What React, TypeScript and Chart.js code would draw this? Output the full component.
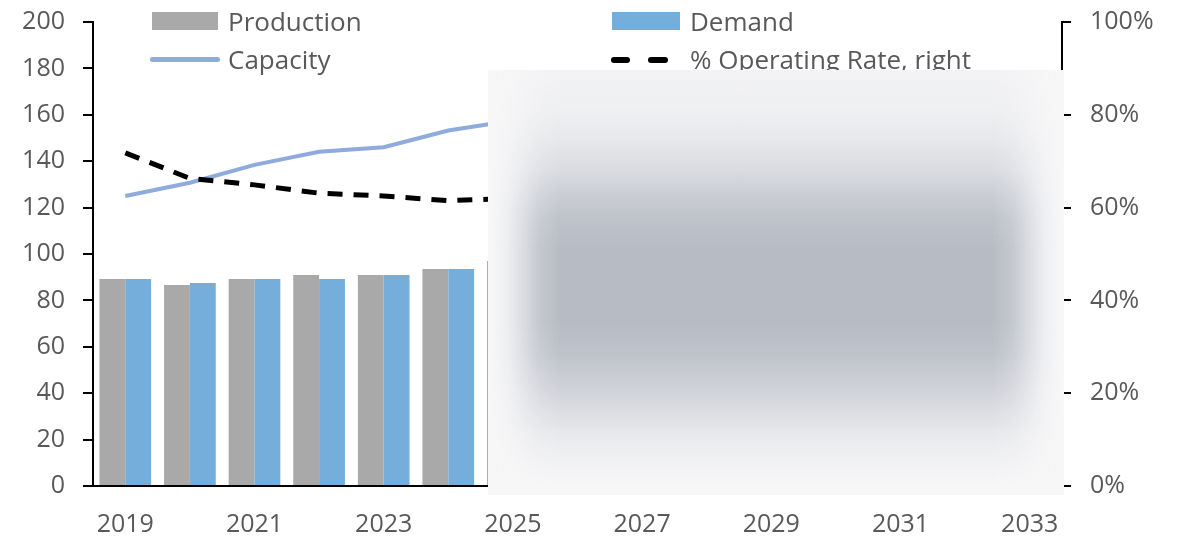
import React, { useEffect, useRef } from "react";
import { Chart, registerables } from "chart.js";

Chart.register(...registerables);

const years = ["2019", "2020", "2021", "2022", "2023", "2024", "2025", "2026", "2027", "2028", "2029", "2030", "2031", "2032", "2033"];
// Values after 2025 are hidden by the overlay in the reference, so they are left empty.
const production = [89.2, 86.6, 89.2, 90.9, 90.9, 93.5, 97.0, null, null, null, null, null, null, null, null];
const demand = [89.2, 87.5, 89.2, 89.2, 90.9, 93.5, null, null, null, null, null, null, null, null, null];
const capacity = [125.0, 130.7, 138.4, 144.1, 146.0, 153.2, 157.5, null, null, null, null, null, null, null, null];
const operatingRate = [71.8, 66.3, 64.9, 63.1, 62.5, 61.5, 62.0, null, null, null, null, null, null, null, null];
const leftTicks = { min: 0, max: 200, step: 20 };
const rightTicks = { min: 0, max: 100, step: 20 };

const FONT = "'Open Sans', 'DejaVu Sans', sans-serif";
const TEXT = "#595959";

const G = "183,187,196";
const vertical = `linear-gradient(to bottom,
  rgba(${G},0.06) 0px, rgba(${G},0.12) 40px, rgba(${G},0.25) 70px, rgba(${G},0.45) 100px,
  rgba(${G},0.7) 125px, rgba(${G},0.9) 150px, rgba(${G},1) 180px, rgba(${G},1) 255px,
  rgba(${G},0.88) 285px, rgba(${G},0.65) 315px, rgba(${G},0.4) 345px, rgba(${G},0.2) 370px,
  rgba(${G},0.07) 395px, rgba(${G},0) 420px)`;
const horizontal = `linear-gradient(to right,
  rgba(0,0,0,0) 5px, rgba(0,0,0,0.15) 20px, rgba(0,0,0,0.45) 35px, rgba(0,0,0,0.8) 52px,
  rgba(0,0,0,1) 72px, rgba(0,0,0,1) calc(100% - 72px), rgba(0,0,0,0.8) calc(100% - 52px),
  rgba(0,0,0,0.45) calc(100% - 35px), rgba(0,0,0,0.15) calc(100% - 20px), rgba(0,0,0,0) calc(100% - 5px))`;

export default function App() {
  const ref = useRef<HTMLCanvasElement>(null);

  useEffect(() => {
    if (!ref.current) return;
    const font = { family: FONT, size: 25 };
    const chart = new Chart(ref.current, {
      type: "bar",
      data: {
        labels: years,
        datasets: [
          {
            type: "line",
            label: "% Operating Rate, right",
            data: operatingRate,
            borderColor: "#000000",
            borderWidth: 5,
            borderDash: [15, 11],
            pointRadius: 0,
            tension: 0,
            yAxisID: "y2",
            order: 0,
          },
          {
            type: "line",
            label: "Capacity",
            data: capacity,
            borderColor: "#8FAADC",
            borderWidth: 4,
            pointRadius: 0,
            tension: 0,
            yAxisID: "y",
            order: 1,
          },
          {
            type: "bar",
            label: "Production",
            data: production,
            backgroundColor: "#A9A9A9",
            categoryPercentage: 0.8,
            barPercentage: 1,
            yAxisID: "y",
            order: 2,
          },
          {
            type: "bar",
            label: "Demand",
            data: demand,
            backgroundColor: "#75AEDA",
            categoryPercentage: 0.8,
            barPercentage: 1,
            yAxisID: "y",
            order: 2,
          },
        ] as any,
      },
      options: {
        responsive: false,
        animation: false,
        devicePixelRatio: 1,
        layout: { padding: { top: 22, left: 0, right: 0, bottom: 0 } },
        plugins: { legend: { display: false }, tooltip: { enabled: false } },
        scales: {
          x: {
            type: "category",
            offset: true,
            grid: { display: true, drawOnChartArea: false, drawTicks: false },
            border: { display: true, color: "#000000", width: 2 },
            ticks: {
              autoSkip: false,
              maxRotation: 0,
              minRotation: 0,
              padding: 24,
              color: TEXT,
              font,
              callback: (_v: any, i: number) => (i % 2 === 0 ? years[i] : ""),
            },
            afterFit: (s: any) => {
              s.height = 52;
              s.paddingLeft = 0;
              s.paddingRight = 0;
            },
          },
          y: {
            position: "left",
            min: leftTicks.min,
            max: leftTicks.max,
            ticks: { stepSize: leftTicks.step, padding: 18, color: TEXT, font },
            grid: { drawOnChartArea: false, drawTicks: true, tickLength: 10, color: "#000000", lineWidth: 2 },
            border: { display: true, color: "#000000", width: 2 },
            afterFit: (s: any) => {
              s.width = 93;
              s.paddingTop = 0;
              s.paddingBottom = 0;
            },
          },
          y2: {
            position: "right",
            min: rightTicks.min,
            max: rightTicks.max,
            ticks: {
              stepSize: rightTicks.step,
              padding: 19,
              color: TEXT,
              font,
              callback: (v: any) => v + "%",
            },
            grid: { drawOnChartArea: false, drawTicks: true, tickLength: 9, color: "#000000", lineWidth: 2 },
            border: { display: true, color: "#000000", width: 2 },
            afterFit: (s: any) => {
              s.width = 123;
              s.paddingTop = 0;
              s.paddingBottom = 0;
            },
          },
        },
      } as any,
    });
    return () => chart.destroy();
  }, []);

  const legendText: React.CSSProperties = {
    position: "absolute",
    fontFamily: FONT,
    fontSize: 26,
    lineHeight: "30px",
    color: TEXT,
    whiteSpace: "nowrap",
  };

  return (
    <div style={{ position: "absolute", left: 0, top: 0, width: 1185, height: 538, background: "#ffffff", overflow: "hidden" }}>
      <canvas ref={ref} width={1185} height={538} style={{ display: "block", width: 1185, height: 538 }} />
      {/* legend */}
      <div style={{ position: "absolute", left: 152, top: 12, width: 66, height: 18, background: "#A9A9A9" }} />
      <div style={{ ...legendText, left: 228, top: 6 }}>Production</div>
      <div style={{ position: "absolute", left: 612, top: 12, width: 68, height: 18, background: "#75AEDA" }} />
      <div style={{ ...legendText, left: 690, top: 6 }}>Demand</div>
      <div style={{ position: "absolute", left: 150, top: 57, width: 70, height: 5, borderRadius: 3, background: "#8FAADC" }} />
      <div style={{ ...legendText, left: 228, top: 44 }}>Capacity</div>
      <div style={{ position: "absolute", left: 611, top: 57, width: 19, height: 6, borderRadius: 3, background: "#000" }} />
      <div style={{ position: "absolute", left: 648, top: 57, width: 20, height: 6, borderRadius: 3, background: "#000" }} />
      <div style={{ ...legendText, left: 690, top: 44 }}>% Operating Rate, right</div>
      {/* blurred overlay */}
      <div style={{ position: "absolute", left: 488, top: 70, width: 576, height: 425, background: "#f7f7f8", overflow: "hidden" }}>
        <div
          style={{
            position: "absolute",
            inset: 0,
            background: vertical,
            WebkitMaskImage: horizontal,
            maskImage: horizontal,
          } as any}
        />
      </div>
    </div>
  );
}
